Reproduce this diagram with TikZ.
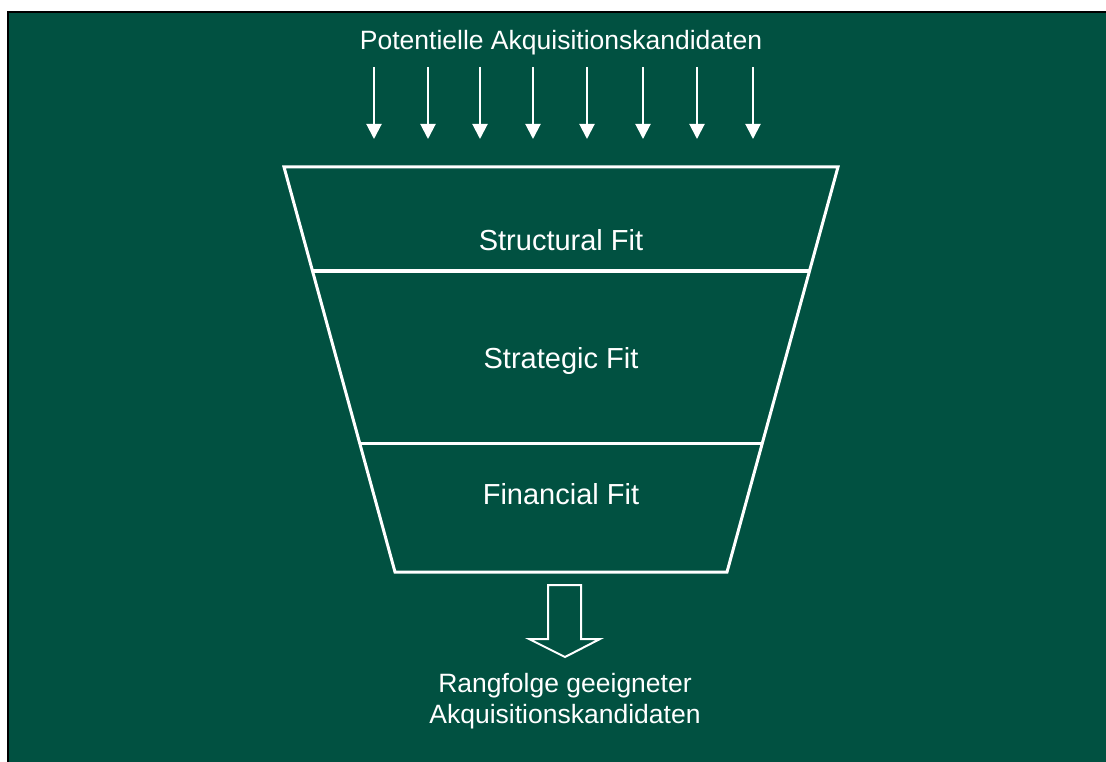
\documentclass[tikz,border=0pt]{standalone}
\usepackage{fontspec}
\setmainfont{Liberation Sans}
\usetikzlibrary{arrows.meta}
\definecolor{fitgreen}{RGB}{1,81,65}

\begin{document}
\begin{tikzpicture}[x=1pt,y=-1pt]
\tikzset{
  label/.style={text=white,anchor=base,inner sep=0pt,font=\fontsize{26.5}{31}\selectfont,align=center},
  stage/.style={label,font=\fontsize{29}{34}\selectfont},
  funnel/.style={draw=white,line width=3pt,line join=miter},
  inarrow/.style={draw=white,line width=2pt,-{Triangle[width=15pt,length=15pt]},white}
}
\useasboundingbox (0,0) rectangle (1106,762);
\fill[white] (0,0) rectangle (1106,762);
\filldraw[draw=black,line width=2.5pt,fill=fitgreen] (8,12) rectangle (1120,780);

% funnel corners
\coordinate (TL) at (284,167);
\coordinate (TR) at (838,167);
\coordinate (BL) at (395,572);
\coordinate (BR) at (727,572);

\coordinate (L1) at (312.5,271);
\coordinate (R1) at (809.5,271);
\coordinate (L2) at (359.6,443);
\coordinate (R2) at (762.4,443);

\draw[funnel] (TL) -- (TR) -- (BR) -- (BL) -- cycle;
\draw[funnel] (L1) -- (R1);
\draw[funnel] (L2) -- (R2);

% incoming candidates
\node[label] (top) at (561,49.5) {Potentielle Akquisitionskandidaten};
\foreach \x [count=\i] in {374,428,480,533,587,643,697,753} {
  \coordinate (in\i) at (\x,67);
  \coordinate (out\i) at (\x,139);
  \draw[inarrow] (in\i) -- (out\i);
}

\node[stage] (structural) at (561,250.5) {Structural Fit};
\node[stage] (strategic) at (561,368.5) {Strategic Fit};
\node[stage] (financial) at (561,504.5) {Financial Fit};

% result arrow
\draw[draw=white,line width=2pt,line join=miter]
  (548,585) -- (581,585) -- (581,639) -- (600,639) -- (565,657) -- (529,639) -- (548,639) -- cycle;

\node[label] (result) at (565,723.5) {Rangfolge geeigneter\\Akquisitionskandidaten};
\end{tikzpicture}
\end{document}
